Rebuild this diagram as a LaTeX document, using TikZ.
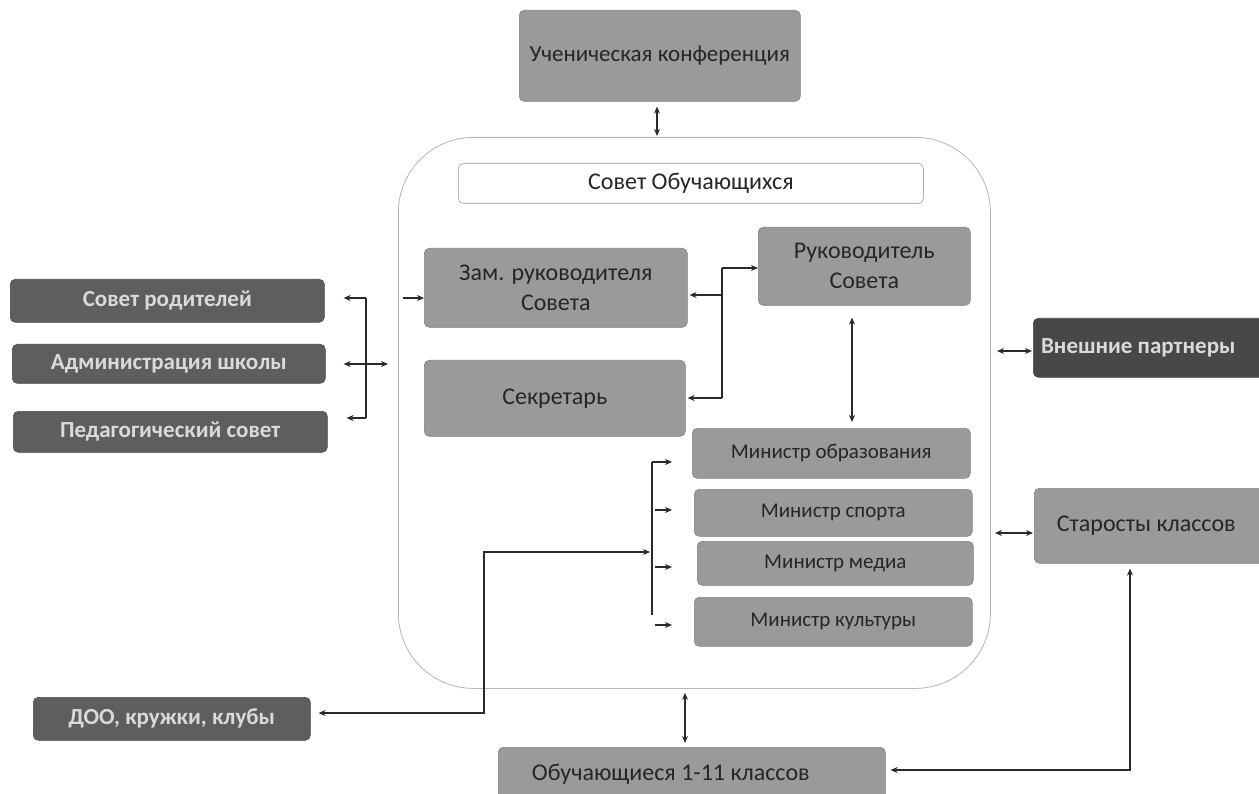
\documentclass[tikz,border=0pt]{standalone}
\usepackage{fontspec}
\setmainfont{Carlito}
\usetikzlibrary{arrows.meta}
\definecolor{boxgray}{HTML}{9A9A9A}
\definecolor{boxedge}{HTML}{808080}
\definecolor{darkbox}{HTML}{5E5E5E}
\definecolor{darkedge}{HTML}{4A4A4A}
\definecolor{darkerbox}{HTML}{484848}
\definecolor{txtdark}{HTML}{262626}
\definecolor{txtlight}{HTML}{DADADA}
\definecolor{contedge}{HTML}{B4B4B4}
\definecolor{linecol}{HTML}{2A2A2A}
\tikzset{
  gbox/.style={fill=boxgray, draw=boxedge, line width=0.6pt, rounded corners=5pt, text=txtdark,
    anchor=north west, inner sep=0pt, align=center,
    font=\fontsize{24}{30}\selectfont},
  mbox/.style={gbox, font=\fontsize{21}{26}\selectfont},
  dbox/.style={fill=darkbox, draw=darkedge, line width=0.6pt, rounded corners=5pt, text=txtlight,
    anchor=north west, inner sep=0pt, align=center,
    font=\fontsize{23}{28}\selectfont\bfseries},
  conn/.style={draw=linecol, line width=1.3pt},
  arr/.style={conn, -{Stealth[length=7pt,width=6pt]}},
  darr/.style={conn, {Stealth[length=7pt,width=6pt]}-{Stealth[length=7pt,width=6pt]}},
}
\begin{document}
\begin{tikzpicture}[x=1pt,y=-1pt]
\useasboundingbox (0,0) rectangle (1259,794);
% container
\node[draw=contedge, line width=0.8pt, rounded corners=75pt, minimum width=592pt, minimum height=551pt,
      anchor=north west, inner sep=0pt] (cont) at (398,137) {};
% top
\node[gbox, font=\fontsize{23}{28}\selectfont, minimum width=281pt, minimum height=91pt] (uk) at (519,10) {Ученическая конференция};
\node[draw=contedge, fill=white, line width=0.8pt, rounded corners=5pt, text=txtdark, anchor=north west,
      inner sep=0pt, minimum width=465pt, minimum height=40pt, font=\fontsize{24}{28}\selectfont] (so) at (458,163) {Совет Обучающихся};
% inner boxes
\node[gbox, minimum width=263pt, minimum height=79pt] (zam) at (424,248) {Зам. руководителя\\Совета};
\node[gbox, minimum width=212pt, minimum height=78pt] (ruk) at (758,227) {Руководитель\\Совета};
\node[gbox, minimum width=261pt, minimum height=76pt] (sek) at (424,360) {Секретарь};
\node[mbox, minimum width=278pt, minimum height=50pt] (mo) at (692,428) {Министр образования};
\node[mbox, minimum width=278pt, minimum height=47pt] (ms) at (694,489) {Министр спорта};
\node[mbox, minimum width=276pt, minimum height=44pt] (mm) at (697,541) {Министр медиа};
\node[mbox, minimum width=278pt, minimum height=49pt] (mk) at (694,597) {Министр культуры};
% left boxes
\node[dbox, minimum width=314pt, minimum height=43pt] (sr) at (10,279) {Совет родителей};
\node[dbox, minimum width=313pt, minimum height=39pt] (adm) at (12,344) {Администрация школы};
\node[dbox, minimum width=314pt, minimum height=41pt] (ped) at (13,411) {Педагогический совет};
\node[dbox, minimum width=277pt, minimum height=43pt] (doo) at (33,697) {ДОО, кружки, клубы};
% right boxes
\node[dbox, fill=darkerbox, minimum width=240pt, minimum height=59pt] (vp) at (1033,318) {\hspace*{-30pt}Внешние партнеры};
\node[gbox, minimum width=240pt, minimum height=75pt] (st) at (1034,488) {\hspace*{-16pt}Старосты классов};
% bottom
\node[gbox, minimum width=387pt, minimum height=54pt] (ob) at (498,747) {\hspace*{-42pt}Обучающиеся 1-11 классов};

% coordinates
\coordinate (lb1) at (366,298);
\coordinate (lb2) at (366,364);
\coordinate (lb3) at (366,418);
\coordinate (lbR) at (388,364);
\coordinate (za) at (403,298);
\coordinate (mb1) at (722,268);
\coordinate (mb2) at (722,295);
\coordinate (mb3) at (722,398);
\coordinate (x852) at (852,370);
\coordinate (nb1) at (652,462);
\coordinate (nb2) at (655,510);
\coordinate (nb3) at (655,567);
\coordinate (nb4) at (655,625);
\coordinate (nbe) at (652,615);
\coordinate (dk1) at (484,713);
\coordinate (dk2) at (484,552);
\coordinate (x657) at (657,120);
\coordinate (x685) at (685,715);
\coordinate (vpa) at (997,351);
\coordinate (sta) at (995,533);
\coordinate (ob1) at (1130,770);

% top arrow
\draw[darr, shorten <=5pt, shorten >=1pt] (uk.south -| x657) -- (cont.north -| x657);
% left bracket
\draw[conn] (lb1) -- (lb3);
\draw[arr, shorten >=19pt] (lb1) -- (lb1 -| sr.east);
\draw[arr, shorten >=19pt] (lb3) -- (lb3 -| ped.east);
\draw[darr, shorten <=18pt] (lb2 -| adm.east) -- (lbR);
\draw[arr] (za) -- (za -| zam.west);
% middle bracket
\draw[conn] (mb1) -- (mb3);
\draw[arr] (mb1) -- (mb1 -| ruk.west);
\draw[arr, shorten >=2pt] (mb2) -- (mb2 -| zam.east);
\draw[arr, shorten >=2pt] (mb3) -- (mb3 -| sek.east);
\draw[darr, shorten <=12pt, shorten >=6pt] (ruk.south -| x852) -- (mo.north -| x852);
% ministers bracket
\draw[conn] (nb1) -- (nbe);
\draw[arr, shorten >=20pt] (nb1) -- (nb1 -| mo.west);
\draw[arr, shorten >=22pt] (nb2) -- (nb2 -| ms.west);
\draw[arr, shorten >=25pt] (nb3) -- (nb3 -| mm.west);
\draw[arr, shorten >=22pt] (nb4) -- (nb4 -| mk.west);
% DOO
\draw[darr, shorten <=8pt, shorten >=2pt] (dk1 -| doo.east) -- (dk1) -- (dk2) -- (dk2 -| nb1);
% bottom
\draw[darr, shorten <=4pt, shorten >=4pt] (cont.south -| x685) -- (ob.north -| x685);
\draw[darr, shorten <=5pt, shorten >=5pt] (st.south -| ob1) -- (ob1) -- (ob1 -| ob.east);
% right
\draw[darr, shorten >=1pt] (vpa) -- (vpa -| vp.west);
\draw[darr, shorten >=1pt] (sta) -- (sta -| st.west);
\end{tikzpicture}
\end{document}
